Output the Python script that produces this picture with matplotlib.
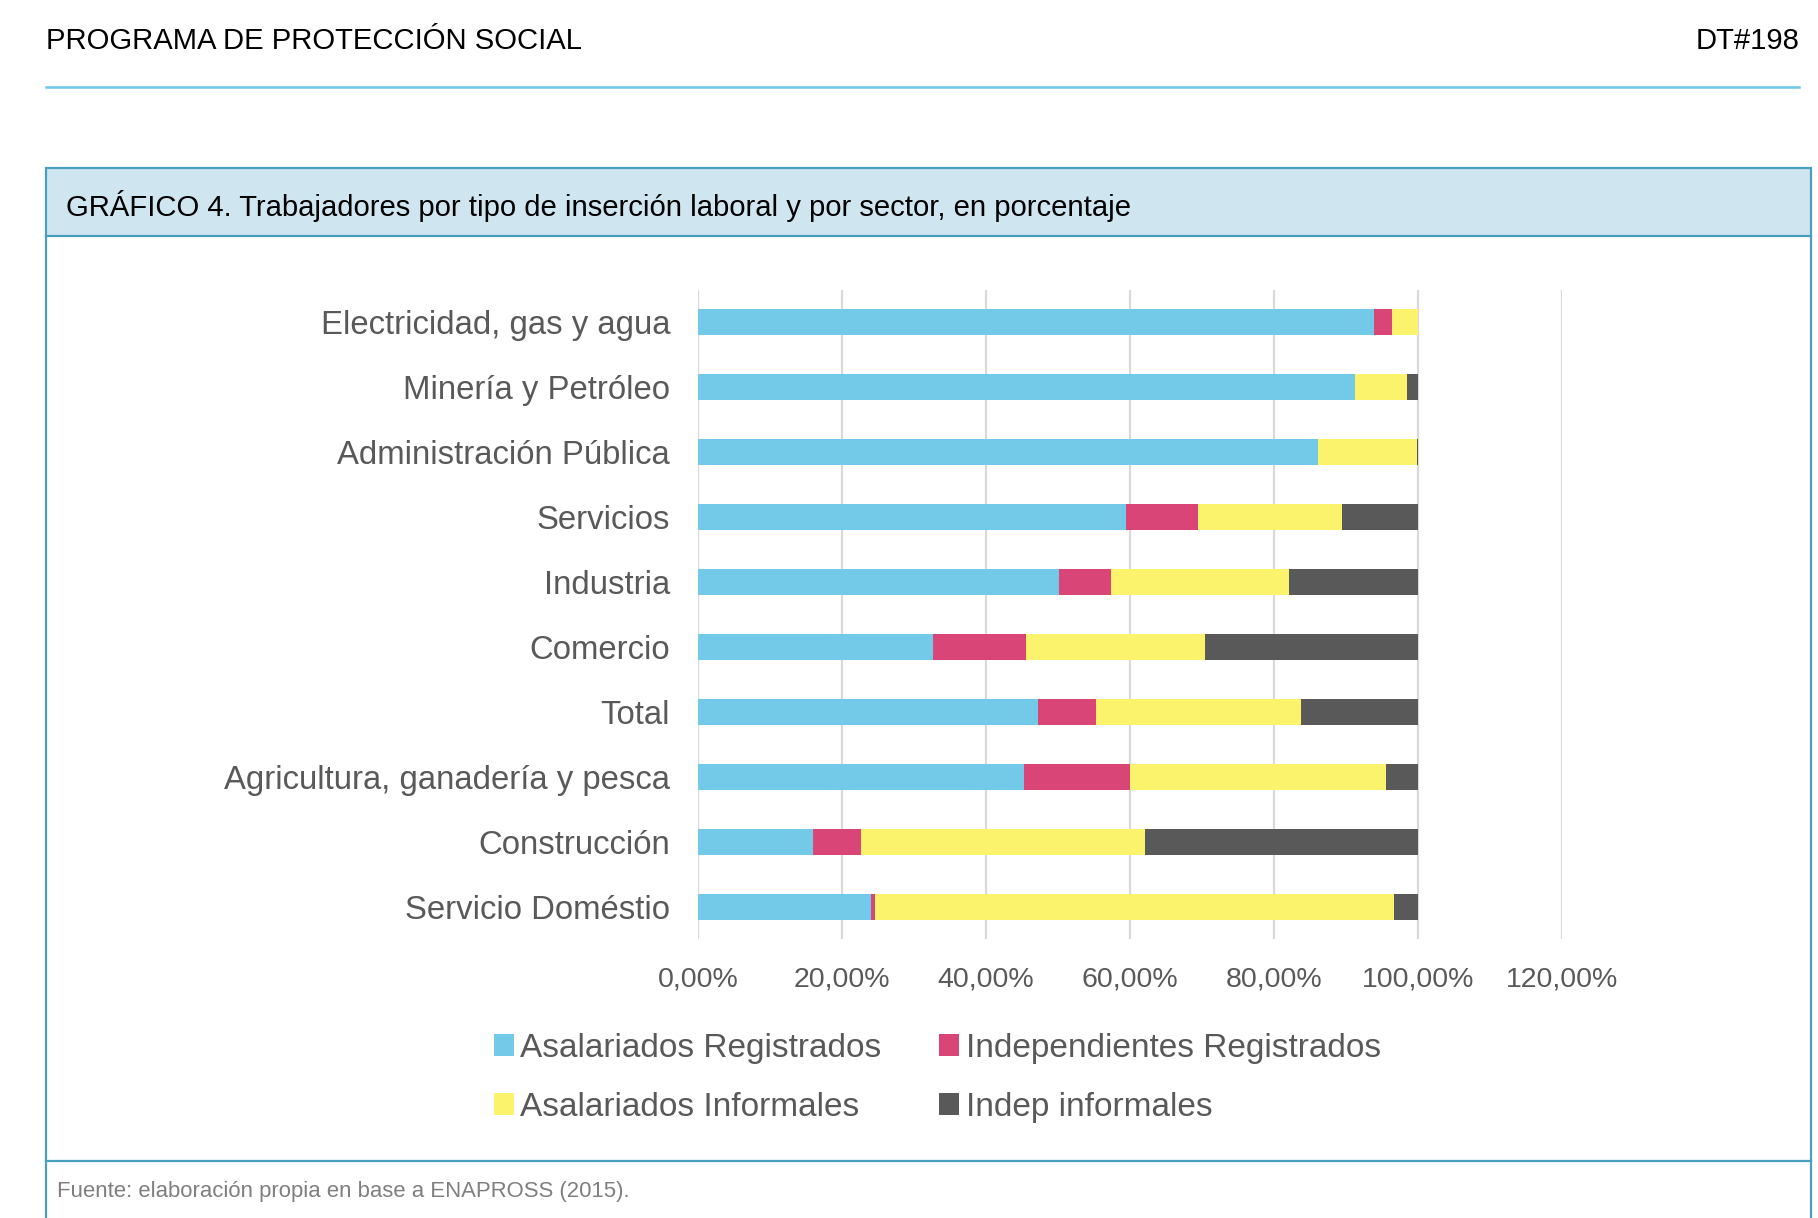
import matplotlib.pyplot as plt
from matplotlib.patches import Rectangle
from matplotlib.lines import Line2D
from matplotlib.ticker import FuncFormatter

plt.rcParams['font.family'] = ['Liberation Sans', 'DejaVu Sans']

#DATA (percent of workers per sector)
sectores = ['Electricidad, gas y agua', 'Minería y Petróleo', 'Administración Pública',
            'Servicios', 'Industria', 'Comercio', 'Total',
            'Agricultura, ganadería y pesca', 'Construcción', 'Servicio Doméstio']
asal_reg = [93.9, 91.2, 86.1, 59.4, 50.2, 32.7, 47.2, 45.3, 16.0, 24.0]
indep_reg = [2.5, 0.0, 0.0, 10.1, 7.1, 12.9, 8.1, 14.7, 6.7, 0.6]
asal_inf = [3.6, 7.3, 13.8, 20.0, 24.8, 24.8, 28.5, 35.6, 39.4, 72.1]
indep_inf = [0.0, 1.5, 0.1, 10.5, 17.9, 29.6, 16.2, 4.4, 37.9, 3.3]
series = ['Asalariados Registrados', 'Independientes Registrados',
          'Asalariados Informales', 'Indep informales']
colores = ['#72C9E8', '#D94576', '#FCF36D', '#595959']
xticks = [0, 20, 40, 60, 80, 100, 120]

gris = '#595959'
azul_borde = '#4A9FC0'

fig = plt.figure(figsize=(18.18, 12.18), dpi=100)
W, H = 1818, 1218

def fx(px):
    return px / W

def fy(py):
    return 1 - py / H

#header
fig.text(fx(46), fy(41), 'PROGRAMA DE PROTECCIÓN SOCIAL', fontsize=21.1,
         color='black', va='center', ha='left')
fig.text(fx(1799), fy(41), 'DT#198', fontsize=21.1, color='black',
         va='center', ha='right')
fig.add_artist(Line2D([fx(46), fx(1799)], [fy(87), fy(87)], color='#6CC8E8', lw=1.8))

#box with title band
fig.add_artist(Rectangle((fx(46), fy(236)), fx(1811) - fx(46), fy(168) - fy(236),
                         facecolor='#CFE6F0', edgecolor='none'))
fig.add_artist(Rectangle((fx(46), fy(1230)), fx(1811) - fx(46), fy(168) - fy(1230),
                         facecolor='none', edgecolor=azul_borde, lw=1.6))
fig.add_artist(Line2D([fx(46), fx(1811)], [fy(236), fy(236)], color=azul_borde, lw=1.6))
fig.add_artist(Line2D([fx(46), fx(1811)], [fy(1161), fy(1161)], color=azul_borde, lw=1.6))
fig.text(fx(66), fy(206), 'GRÁFICO 4. Trabajadores por tipo de inserción laboral y por sector, en porcentaje',
         fontsize=21.1, color='black', va='center', ha='left')
fig.text(fx(57), fy(1191), 'Fuente: elaboración propia en base a ENAPROSS (2015).',
         fontsize=15.9, color='#7F7F7F', va='center', ha='left')

#bars
ax = fig.add_axes([fx(698), fy(939), fx(1562) - fx(698), fy(290) - fy(939)])
ypos = list(range(len(sectores)))
left = [0.0] * len(sectores)
for vals, nombre, col in zip([asal_reg, indep_reg, asal_inf, indep_inf], series, colores):
    ax.barh(ypos, vals, left=left, height=0.4, color=col, label=nombre, zorder=3)
    left = [a + b for a, b in zip(left, vals)]

ax.set_xlim(0, 120)
ax.set_ylim(len(sectores) - 0.5, -0.5)
ax.set_xticks(xticks)
ax.xaxis.set_major_formatter(FuncFormatter(lambda v, p: f'{v:.2f}%'.replace('.', ',')))
ax.set_yticks(ypos)
ax.set_yticklabels(sectores)
ax.tick_params(axis='y', length=0, pad=20, labelsize=23.7, labelcolor=gris)
ax.tick_params(axis='x', length=0, pad=20, labelsize=20.5, labelcolor=gris)
ax.grid(axis='x', color='#D9D9D9', lw=1.6, zorder=0)
for s in ax.spines.values():
    s.set_visible(False)

#legend: rows AR/IR and AI/II
h, l = ax.get_legend_handles_labels()
orden = [0, 2, 1, 3]
fig.legend([h[i] for i in orden], [l[i] for i in orden], ncol=2,
           loc='upper left', bbox_to_anchor=(fx(477), fy(1016)),
           frameon=False, fontsize=24, labelcolor=gris,
           handlelength=0.6, handleheight=0.6, handletextpad=0.2,
           columnspacing=1.72, labelspacing=0.84, borderpad=0)

fig.savefig('out.png', dpi=100)
